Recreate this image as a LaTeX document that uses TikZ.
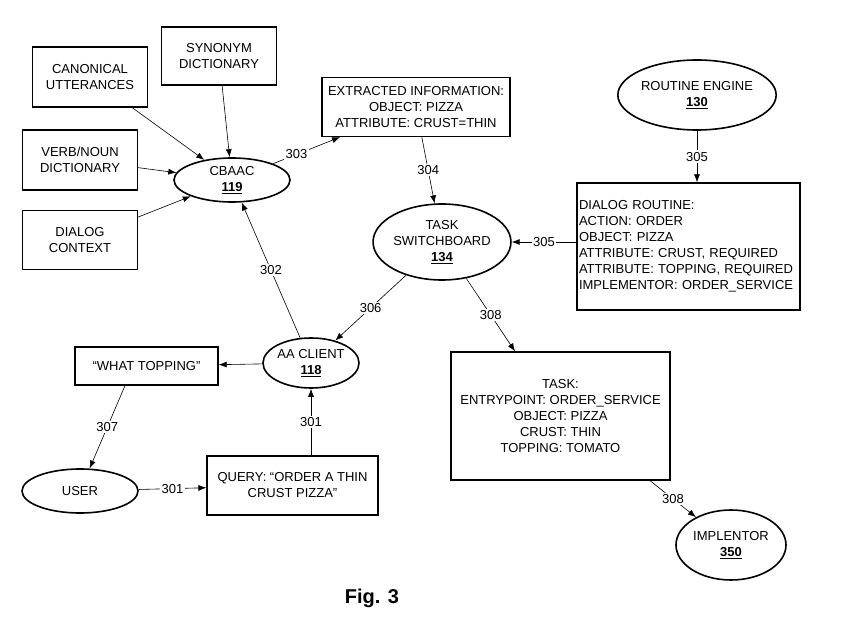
\documentclass[tikz,border=0pt]{standalone}
\usepackage{fontspec}
\setmainfont{Liberation Sans}
\usetikzlibrary{shapes.geometric,arrows.meta}
\begin{document}
\begin{tikzpicture}[x=1pt,y=-1pt,
  every node/.style={font=\fontsize{13}{16}\selectfont},
  box/.style={draw,line width=1.3pt,align=center,inner sep=0,minimum width=#1},
  ell/.style={draw,line width=1.6pt,ellipse,align=center,inner sep=0},
  arr/.style={-{Latex[length=8pt,width=6pt]},line width=0.6pt},
  lab/.style={fill=white,inner sep=1.5pt}]
\useasboundingbox (0,0) rectangle (857,617);
\node[box=115,minimum height=60] (can) at (90,77) {CANONICAL\\UTTERANCES};
\node[box=115,minimum height=58] (syn) at (219,56) {SYNONYM\\DICTIONARY};
\node[box=115,minimum height=60] (vn) at (80,160) {VERB/NOUN\\DICTIONARY};
\node[box=115,minimum height=59] (dc) at (80,240) {DIALOG\\CONTEXT};
\node[ell,minimum width=116,minimum height=44] (cb) at (232,180) {CBAAC\\\underline{\textbf{119}}};
\node[box=188,minimum height=59] (ex) at (416,107) {EXTRACTED INFORMATION:\\OBJECT: PIZZA\\ATTRIBUTE: CRUST=THIN};
\node[ell,minimum width=120,minimum height=70] (re) at (697,95) {ROUTINE ENGINE\\\underline{\textbf{130}}};
\node[box=223,minimum height=127,align=left,inner sep=0,text width=219] (dr) at (688.5,246.5) {DIALOG ROUTINE:\\ACTION: ORDER\\OBJECT: PIZZA\\ATTRIBUTE: CRUST, REQUIRED\\ATTRIBUTE: TOPPING, REQUIRED\\IMPLEMENTOR: ORDER\_SERVICE};
\node[ell,minimum width=116,minimum height=76] (ts) at (442,242) {TASK\\SWITCHBOARD\\\underline{\textbf{134}}};
\node[ell,minimum width=96,minimum height=50] (aa) at (311,363) {AA CLIENT\\\underline{\textbf{118}}};
\node[box=143,minimum height=38] (wt) at (146.5,366) {``WHAT TOPPING''};
\node[ell,minimum width=116,minimum height=44] (us) at (80,491) {USER};
\node[box=171,minimum height=59] (qu) at (292.5,485.5) {QUERY: ``ORDER A THIN\\CRUST PIZZA''};
\node[box=219,minimum height=128] (tk) at (560.5,416) {TASK:\\ENTRYPOINT: ORDER\_SERVICE\\OBJECT: PIZZA\\CRUST: THIN\\TOPPING: TOMATO};
\node[ell,minimum width=110,minimum height=70] (im) at (731,545) {IMPLENTOR\\\underline{\textbf{350}}};
\node[font=\bfseries\fontsize{20}{24}\selectfont] (fig) at (372,598) {Fig. 3};
\draw[arr] (can) -- (cb);
\draw[arr] (syn) -- (cb);
\draw[arr] (vn) -- (cb);
\draw[arr] (dc) -- (cb);
\draw[arr] (cb) -- node[lab,pos=0.35] {303} (ex);
\draw[arr] (ex) -- node[lab] {304} (ts);
\draw[arr] (re) -- node[lab] {305} (re |- dr.north);
\draw[arr] (dr.west |- ts) -- node[lab] {305} (ts);
\draw[arr] (ts) -- node[lab] {306} (aa);
\draw[arr] (aa) -- node[lab] {302} (cb);
\draw[arr] (ts) -- node[lab] {308} (tk.north west -| 515,0);
\draw[arr] (tk.south east -| 650,0) -- node[lab] {308} (im);
\draw[arr] (aa) -- (wt);
\draw[arr] (wt.south -| 125,0) -- node[lab] {307} (us);
\draw[arr] (us) -- node[lab] {301} (qu);
\draw[arr] (qu.north -| 311,0) -- node[lab] {301} (aa);
\end{tikzpicture}
\end{document}
